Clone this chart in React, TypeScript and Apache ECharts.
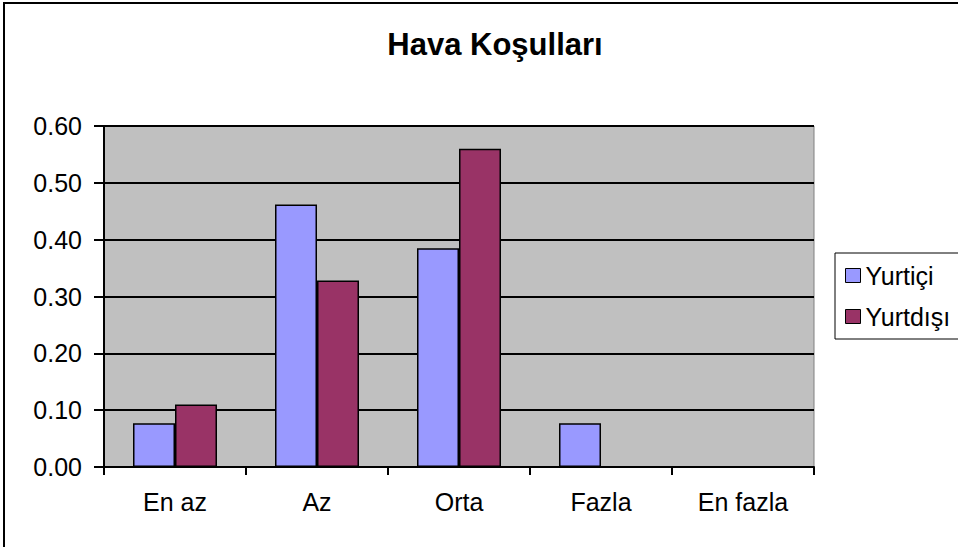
import React, { useEffect, useRef } from "react";
import * as echarts from "echarts";

const categories = ["En az", "Az", "Orta", "Fazla", "En fazla"];
const yurtici = [0.077, 0.462, 0.385, 0.077, 0];
const yurtdisi = [0.11, 0.328, 0.56, 0, 0];
const seriesNames = ["Yurtiçi", "Yurtdışı"];
const titleText = "Hava Koşulları";

const FONT = "'Liberation Sans', Arial, sans-serif";

export default function App() {
  const ref = useRef<HTMLDivElement>(null);
  useEffect(() => {
    document.body.style.margin = "0";
    const chart = echarts.init(ref.current!, null, { renderer: "svg" });
    chart.setOption({
      animation: false,
      backgroundColor: "#ffffff",
      textStyle: { fontFamily: FONT, color: "#000" },
      title: {
        text: titleText,
        left: 490,
        top: 24,
        textAlign: "center",
        textStyle: { fontFamily: FONT, fontWeight: "bold", fontSize: 31, color: "#000" },
      },
      graphic: [
        {
          type: "rect",
          shape: { x: 4, y: 3, width: 1100, height: 1000 },
          style: { fill: "none", stroke: "#000", lineWidth: 2 },
          silent: true,
        },
      ],
      legend: {
        orient: "vertical",
        left: 835,
        top: 253,
        data: seriesNames,
        icon: "rect",
        itemWidth: 15,
        itemHeight: 14,
        itemGap: 16,
        padding: [10, 10, 10, 10],
        borderColor: "#000",
        borderWidth: 1,
        backgroundColor: "#fff",
        itemStyle: { borderColor: "#000", borderWidth: 1 },
        textStyle: { fontFamily: FONT, fontSize: 25, color: "#000" },
      },
      grid: {
        left: 104,
        top: 126,
        right: 144,
        bottom: 80,
        show: true,
        backgroundColor: "#C0C0C0",
        borderColor: "#808080",
        borderWidth: 1,
      },
      xAxis: {
        type: "category",
        data: categories,
        axisLine: { lineStyle: { color: "#000", width: 2 } },
        axisTick: { show: true, length: 8, lineStyle: { color: "#000", width: 2 } },
        axisLabel: { fontFamily: FONT, fontSize: 25, color: "#000", margin: 22 },
      },
      yAxis: {
        type: "value",
        min: 0,
        max: 0.6,
        interval: 0.1,
        axisLine: { show: true, lineStyle: { color: "#000", width: 2 } },
        axisTick: { show: true, length: 10, lineStyle: { color: "#000", width: 2 } },
        axisLabel: {
          fontFamily: FONT,
          fontSize: 25,
          color: "#000",
          margin: 22,
          formatter: (v: number) => v.toFixed(2),
        },
        splitLine: { show: true, lineStyle: { color: "#000", width: 2 } },
      },
      series: [
        {
          name: seriesNames[0],
          type: "bar",
          data: yurtici,
          barWidth: 42,
          barGap: "0%",
          itemStyle: { color: "#9999FF", borderColor: "#000", borderWidth: 1.5 },
        },
        {
          name: seriesNames[1],
          type: "bar",
          data: yurtdisi,
          barWidth: 42,
          barGap: "0%",
          itemStyle: { color: "#993366", borderColor: "#000", borderWidth: 1.5 },
        },
      ],
    });
    return () => chart.dispose();
  }, []);
  return <div ref={ref} style={{ width: 958, height: 547 }} />;
}
